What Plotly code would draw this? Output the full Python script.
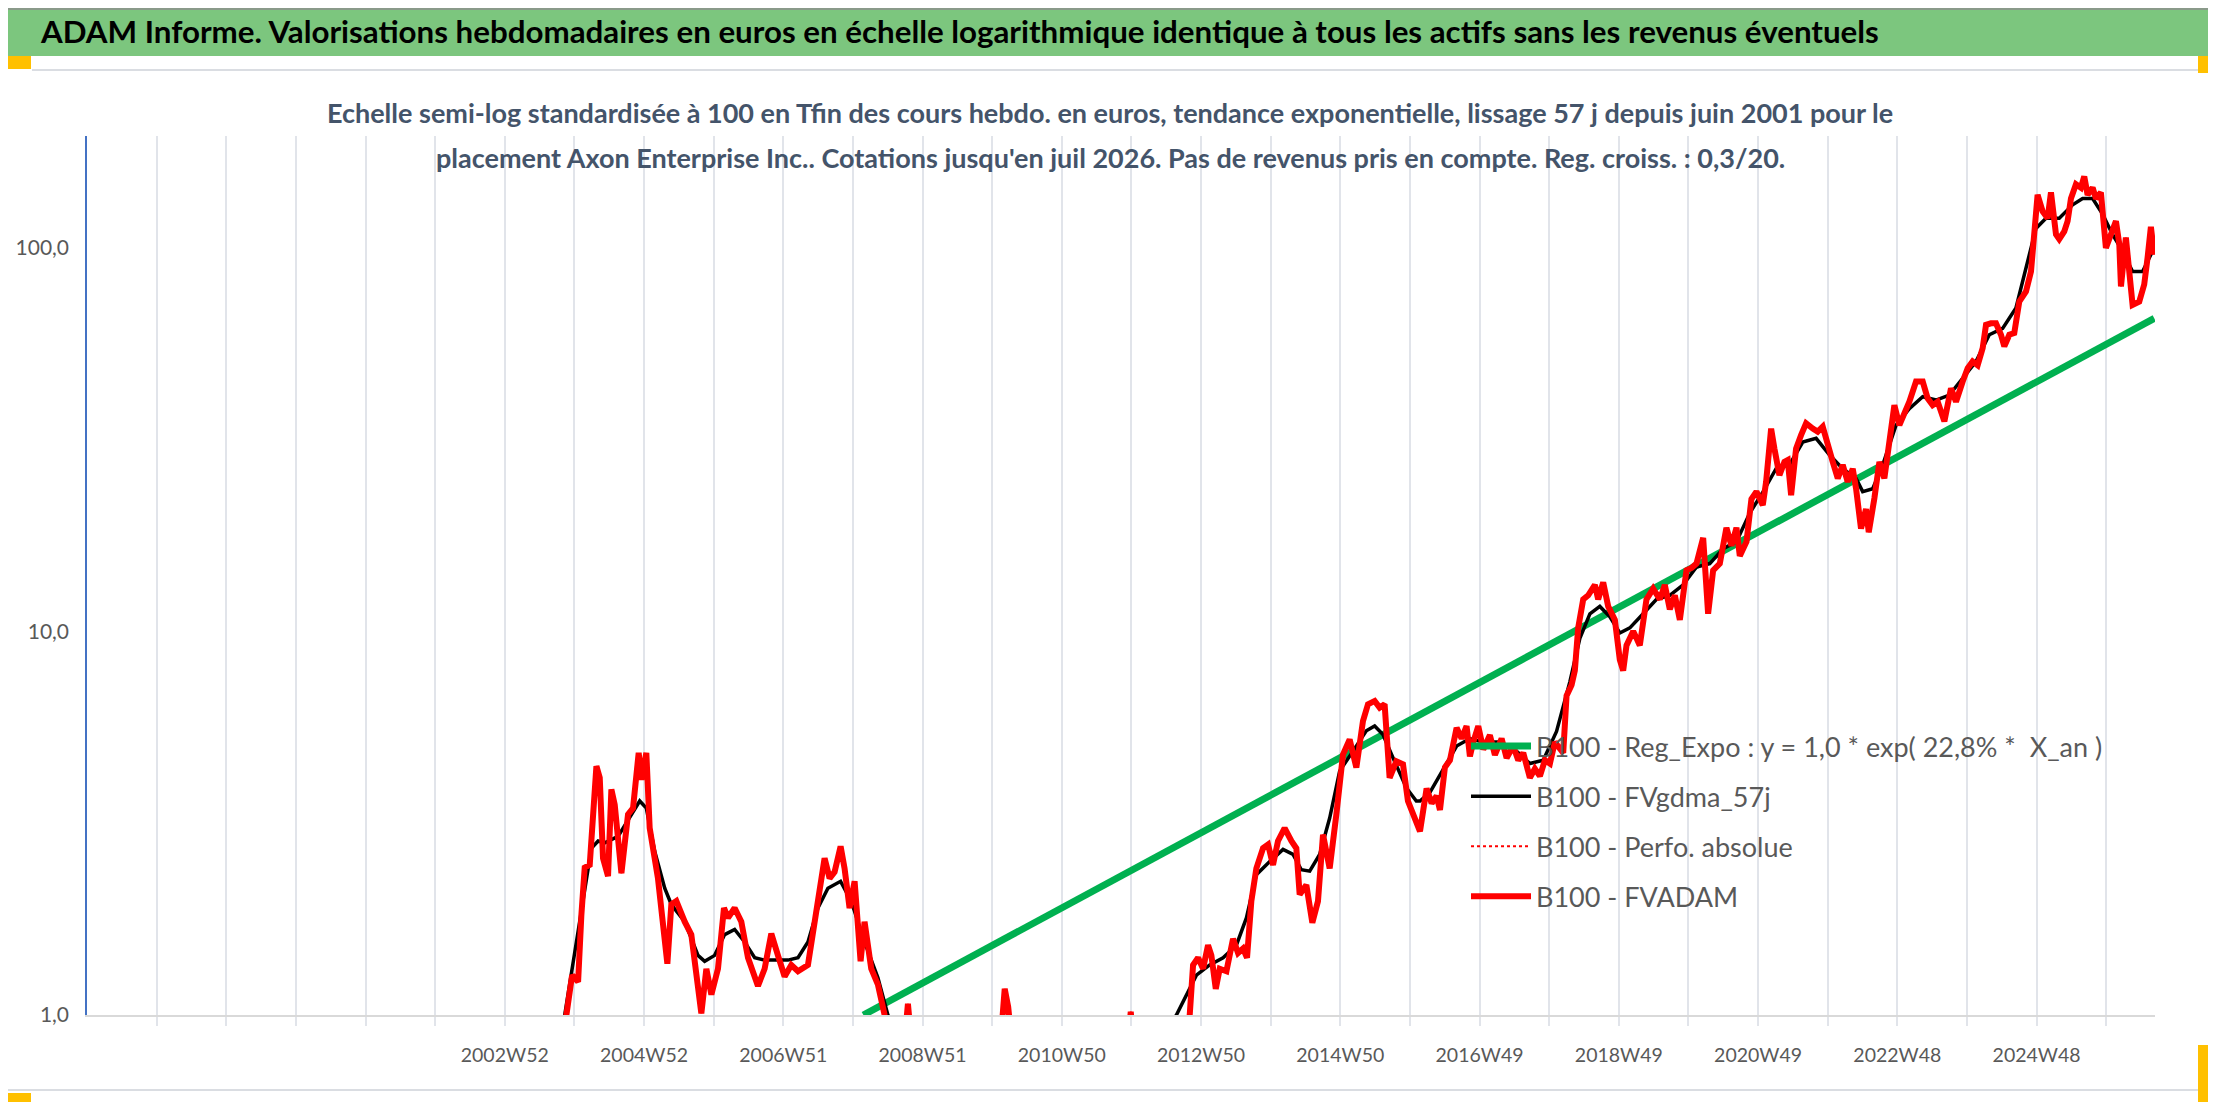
import plotly.graph_objects as go

# FVADAM (base 100) - weekly valuation (decimal years)
fvadam_x = [2001.45, 2001.9, 2002.4, 2002.9, 2003.4, 2003.75, 2003.885, 2003.967, 2004.053, 2004.10,
            2004.148, 2004.22, 2004.316, 2004.364, 2004.411, 2004.483, 2004.531, 2004.579, 2004.675, 2004.77,
            2004.842, 2004.923, 2004.962, 2005.033, 2005.081, 2005.20, 2005.335, 2005.392, 2005.464, 2005.584,
            2005.679, 2005.823, 2005.895, 2005.967, 2006.062, 2006.148, 2006.206, 2006.301, 2006.397, 2006.493,
            2006.636, 2006.732, 2006.828, 2006.923, 2007.019, 2007.115, 2007.211, 2007.354, 2007.45, 2007.522,
            2007.593, 2007.665, 2007.737, 2007.823, 2007.88, 2007.952, 2008.024, 2008.11, 2008.167, 2008.263,
            2008.359, 2008.455, 2008.6, 2008.74, 2008.79, 2008.84, 2009.2, 2009.6, 2010.0, 2010.12,
            2010.18, 2010.23, 2010.28, 2010.6, 2011.0, 2011.5, 2011.95, 2011.99, 2012.03, 2012.3,
            2012.6, 2012.837, 2012.885, 2012.957, 2013.029, 2013.10, 2013.148, 2013.211, 2013.268, 2013.364,
            2013.459, 2013.531, 2013.603, 2013.66, 2013.722, 2013.794, 2013.89, 2013.962, 2014.033, 2014.105,
            2014.20, 2014.297, 2014.368, 2014.416, 2014.512, 2014.598, 2014.679, 2014.751, 2014.847, 2014.943,
            2015.038, 2015.134, 2015.23, 2015.325, 2015.397, 2015.493, 2015.565, 2015.636, 2015.708, 2015.804,
            2015.90, 2015.971, 2016.043, 2016.144, 2016.239, 2016.311, 2016.383, 2016.431, 2016.502, 2016.574,
            2016.67, 2016.742, 2016.813, 2016.861, 2016.909, 2016.981, 2017.053, 2017.148, 2017.22, 2017.316,
            2017.388, 2017.483, 2017.555, 2017.627, 2017.722, 2017.794, 2017.866, 2017.938, 2018.01, 2018.081,
            2018.201, 2018.249, 2018.321, 2018.368, 2018.416, 2018.488, 2018.56, 2018.656, 2018.703, 2018.775,
            2018.847, 2018.943, 2019.014, 2019.062, 2019.11, 2019.206, 2019.254, 2019.301, 2019.397, 2019.493,
            2019.589, 2019.66, 2019.732, 2019.804, 2019.876, 2019.971, 2020.043, 2020.115, 2020.211, 2020.282,
            2020.354, 2020.45, 2020.545, 2020.617, 2020.689, 2020.737, 2020.833, 2020.904, 2020.976, 2021.067,
            2021.115, 2021.187, 2021.234, 2021.306, 2021.378, 2021.426, 2021.474, 2021.545, 2021.617, 2021.689,
            2021.785, 2021.856, 2021.928, 2022.0, 2022.072, 2022.144, 2022.215, 2022.287, 2022.359, 2022.407,
            2022.478, 2022.55, 2022.589, 2022.67, 2022.742, 2022.813, 2022.885, 2022.957, 2023.029, 2023.10,
            2023.172, 2023.268, 2023.364, 2023.435, 2023.507, 2023.579, 2023.675, 2023.77, 2023.842, 2023.938,
            2024.01, 2024.081, 2024.153, 2024.225, 2024.273, 2024.344, 2024.416, 2024.488, 2024.536, 2024.608,
            2024.679, 2024.751, 2024.847, 2024.919, 2024.967, 2025.014, 2025.086, 2025.158, 2025.206, 2025.278,
            2025.325, 2025.397, 2025.445, 2025.493, 2025.565, 2025.636, 2025.684, 2025.732, 2025.804, 2025.852,
            2025.923, 2025.995, 2026.067, 2026.139, 2026.187, 2026.211, 2026.282, 2026.378, 2026.474, 2026.545,
            2026.593, 2026.641, 2026.689]
fvadam_y = [0.45, 0.32, 0.28, 0.38, 0.55, 0.85, 1.0, 1.27, 1.22, 1.82,
            2.42, 2.46, 4.45, 4.15, 2.56, 2.30, 3.87, 3.53, 2.34, 3.33,
            3.46, 4.82, 4.1, 4.82, 3.07, 2.27, 1.36, 1.94, 1.98, 1.75,
            1.62, 1.01, 1.32, 1.13, 1.32, 1.90, 1.79, 1.90, 1.75, 1.41,
            1.19, 1.32, 1.63, 1.43, 1.26, 1.35, 1.30, 1.35, 1.75, 2.23,
            2.56, 2.27, 2.36, 2.75, 2.41, 1.90, 2.23, 1.38, 1.75, 1.32,
            1.20, 1.0, 0.85, 0.85, 1.07, 0.85, 0.6, 0.5, 0.7, 0.85,
            1.17, 1.05, 0.85, 0.6, 0.55, 0.7, 0.85, 1.02, 0.85, 0.6,
            0.7, 1.0, 1.35, 1.41, 1.32, 1.52, 1.43, 1.17, 1.32, 1.30,
            1.58, 1.45, 1.49, 1.41, 1.98, 2.41, 2.72, 2.78, 2.46, 2.84,
            3.07, 2.84, 2.72, 2.06, 2.18, 1.74, 1.98, 2.95, 2.41, 3.33,
            4.77, 5.22, 4.41, 5.83, 6.45, 6.58, 6.32, 6.45, 4.15, 4.58,
            4.50, 3.61, 3.33, 3.01, 3.89, 3.56, 3.72, 3.42, 4.42, 4.61,
            5.60, 5.25, 5.66, 4.72, 5.14, 5.66, 4.92, 5.36, 4.76, 5.25,
            4.67, 5.02, 4.61, 4.82, 4.15, 4.38, 4.19, 4.61, 4.52, 5.14,
            4.82, 6.79, 7.24, 7.89, 10.2, 12.1, 12.4, 13.2, 12.1, 13.4,
            11.6, 10.7, 8.42, 7.89, 9.18, 10.0, 9.58, 9.18, 12.1, 12.9,
            12.1, 13.2, 11.4, 12.4, 10.7, 14.4, 14.6, 15.0, 17.5, 11.1,
            14.4, 15.0, 18.6, 16.7, 18.6, 15.7, 17.1, 22.1, 23.1, 21.3,
            24.5, 33.7, 29.9, 25.5, 27.6, 27.9, 22.6, 29.9, 32.4, 34.8,
            33.7, 33.1, 34.1, 31.1, 27.6, 25.0, 27.1, 24.5, 26.5, 23.5,
            18.5, 20.8, 18.1, 22.2, 27.6, 25.0, 31.1, 38.8, 34.4, 36.6,
            39.6, 44.7, 44.7, 40.4, 38.8, 39.6, 35.2, 42.9, 39.6, 44.7,
            48.4, 50.4, 49.3, 54.6, 62.8, 63.4, 63.4, 59.2, 55.2, 59.2,
            59.8, 72.2, 76.7, 86.5, 110, 137, 124, 119, 139, 108,
            105, 110, 117, 134, 146, 143, 153, 137, 143, 134,
            139, 99.6, 108, 117, 102, 79.1, 106, 70.8, 72.2, 80.0,
            93.8, 113, 95.7]

# FVgdma_57j - smoothed valuation
gdma_x = [2001.45, 2002.5, 2003.3, 2003.7, 2003.861, 2003.967, 2004.10, 2004.244, 2004.34, 2004.435,
          2004.627, 2004.818, 2004.938, 2005.033, 2005.153, 2005.297, 2005.392, 2005.584, 2005.775, 2005.871,
          2006.014, 2006.158, 2006.301, 2006.445, 2006.589, 2006.732, 2006.923, 2007.067, 2007.211, 2007.354,
          2007.498, 2007.641, 2007.823, 2007.976, 2008.167, 2008.359, 2008.502, 2009.0, 2010.0, 2011.0,
          2012.0, 2012.4, 2012.646, 2012.933, 2013.124, 2013.316, 2013.507, 2013.651, 2013.794, 2013.986,
          2014.177, 2014.321, 2014.44, 2014.56, 2014.703, 2014.847, 2014.99, 2015.182, 2015.373, 2015.493,
          2015.612, 2015.756, 2015.947, 2016.091, 2016.144, 2016.287, 2016.478, 2016.67, 2016.861, 2017.053,
          2017.292, 2017.531, 2017.722, 2017.914, 2018.105, 2018.297, 2018.44, 2018.584, 2018.727, 2018.871,
          2019.014, 2019.158, 2019.349, 2019.541, 2019.732, 2019.923, 2020.115, 2020.306, 2020.498, 2020.689,
          2020.88, 2021.072, 2021.258, 2021.45, 2021.641, 2021.833, 2022.024, 2022.215, 2022.407, 2022.502,
          2022.646, 2022.789, 2022.981, 2023.172, 2023.364, 2023.555, 2023.746, 2023.938, 2024.129, 2024.32,
          2024.512, 2024.703, 2024.847, 2024.99, 2025.134, 2025.325, 2025.517, 2025.66, 2025.804, 2025.947,
          2026.09, 2026.234, 2026.378, 2026.522, 2026.665]
gdma_y = [0.4, 0.3, 0.5, 0.8, 1.0, 1.32, 1.82, 2.72, 2.84, 2.81,
          2.92, 3.33, 3.61, 3.46, 2.67, 2.14, 1.94, 1.75, 1.43, 1.38,
          1.43, 1.62, 1.67, 1.55, 1.41, 1.39, 1.39, 1.39, 1.41, 1.55,
          1.90, 2.14, 2.23, 1.98, 1.55, 1.25, 1.0, 0.7, 0.6, 0.6,
          0.65, 0.85, 1.0, 1.27, 1.35, 1.41, 1.52, 1.79, 2.32, 2.51,
          2.70, 2.62, 2.39, 2.37, 2.62, 3.26, 4.32, 4.87, 5.50, 5.66,
          5.38, 4.68, 3.91, 3.61, 3.61, 3.80, 4.38, 5.02, 5.25, 5.14,
          5.14, 4.87, 4.52, 4.61, 5.48, 7.39, 9.58, 11.1, 11.6, 10.9,
          9.89, 10.2, 11.1, 12.1, 12.4, 13.2, 14.7, 15.0, 16.4, 17.1,
          20.3, 23.1, 26.5, 27.1, 31.1, 31.8, 28.8, 26.5, 25.0, 23.1,
          23.5, 27.1, 34.4, 38.0, 40.8, 40.0, 41.2, 45.6, 50.4, 59.2,
          61.5, 69.5, 88.3, 112, 119, 119, 129, 134, 134, 122,
          108, 97.7, 86.5, 86.5, 97.7]

# Reg_Expo : y = 1,0 * exp(22,8% * X_an), visible part of the trend line
reg_x = [2008.15, 2026.69]
reg_y = [1.0, 65.3]

# category labels of the x axis (one gridline per year, label every two years)
grid_years = list(range(1998, 2027))
label_years = [2003, 2005, 2007, 2009, 2011, 2013, 2015, 2017, 2019, 2021, 2023, 2025]
label_text = ['2002W52', '2004W52', '2006W51', '2008W51', '2010W50', '2012W50',
              '2014W50', '2016W49', '2018W49', '2020W49', '2022W48', '2024W48']

W_PX, H_PX = 2216, 1102
L, R, T, B = 79, 2147, 128, 1007

FONT = "Lato, Open Sans, sans-serif"


def px(x):
	return (x - L) / (R - L)


def py(y):
	return (B - y) / (B - T)


tick_text = [label_text[label_years.index(yr)] if yr in label_years else '' for yr in grid_years]

fig = go.Figure()
fig.add_trace(go.Scatter(x=reg_x, y=reg_y, mode='lines', name='B100 - Reg_Expo : y = 1,0 * exp( 22,8% *  X_an )',
						 line=dict(color='#00B050', width=7), legendgroup='a', legendrank=1))
fig.add_trace(go.Scatter(x=gdma_x, y=gdma_y, mode='lines', name='B100 - FVgdma_57j',
						 line=dict(color='black', width=3.5), legendgroup='b', legendrank=2))
fig.add_trace(go.Scatter(x=fvadam_x, y=fvadam_y, mode='lines', name='B100 - Perfo. absolue',
						 line=dict(color='red', width=2, dash='dot'), legendgroup='c', legendrank=3))
fig.add_trace(go.Scatter(x=fvadam_x, y=fvadam_y, mode='lines', name='B100 - FVADAM',
						 line=dict(color='red', width=6), legendgroup='d', legendrank=4))

shapes = [
	# green title bar
	dict(type='rect', xref='paper', yref='paper', x0=px(0), x1=px(W_PX), y0=py(48), y1=py(0),
		 fillcolor='#7CC67E', line=dict(width=0), layer='below'),
	dict(type='line', xref='paper', yref='paper', x0=px(0), x1=px(W_PX), y0=py(1), y1=py(1),
		 line=dict(color='#8A9A8A', width=2)),
	# chart area border
	dict(type='line', xref='paper', yref='paper', x0=px(24), x1=px(2205), y0=py(62), y1=py(62),
		 line=dict(color='#DADDE2', width=2)),
	dict(type='line', xref='paper', yref='paper', x0=px(2205), x1=px(2205), y0=py(62), y1=py(1082),
		 line=dict(color='#DADDE2', width=2)),
	dict(type='line', xref='paper', yref='paper', x0=px(0), x1=px(2205), y0=py(1082), y1=py(1082),
		 line=dict(color='#DADDE2', width=2)),
	dict(type='line', xref='paper', yref='paper', x0=px(0), x1=px(W_PX), y0=py(1100), y1=py(1100),
		 line=dict(color='#808080', width=2)),
	# selection handles
	dict(type='rect', xref='paper', yref='paper', x0=px(0), x1=px(23), y0=py(61), y1=py(48),
		 fillcolor='#FFC000', line=dict(width=0)),
	dict(type='rect', xref='paper', yref='paper', x0=px(2190), x1=px(2210), y0=py(65), y1=py(48),
		 fillcolor='#FFC000', line=dict(width=0)),
	dict(type='rect', xref='paper', yref='paper', x0=px(0), x1=px(23), y0=py(1099), y1=py(1085),
		 fillcolor='#FFC000', line=dict(width=0)),
	dict(type='rect', xref='paper', yref='paper', x0=px(2190), x1=px(2210), y0=py(1099), y1=py(1037),
		 fillcolor='#FFC000', line=dict(width=0)),
]

annotations = [
	dict(text='ADAM Informe. Valorisations hebdomadaires en euros en échelle logarithmique identique à tous les actifs sans les revenus éventuels',
		 xref='paper', yref='paper', x=px(30), y=py(23), xanchor='left', yanchor='middle', showarrow=False,
		 font=dict(family=FONT, size=31.3, color='black', weight='bold')),
	dict(text='Echelle semi-log standardisée à 100 en Tfin des cours hebdo. en euros, tendance exponentielle, lissage 57 j depuis juin 2001 pour le',
		 xref='paper', yref='paper', x=px(1102), y=py(104), xanchor='center', yanchor='middle', showarrow=False,
		 font=dict(family=FONT, size=27, color='#44546A', weight='bold')),
	dict(text="placement Axon Enterprise Inc.. Cotations jusqu'en juil 2026. Pas de revenus pris en compte. Reg. croiss. : 0,3/20.",
		 xref='paper', yref='paper', x=px(1102), y=py(149), xanchor='center', yanchor='middle', showarrow=False,
		 font=dict(family=FONT, size=27, color='#44546A', weight='bold')),
]

fig.update_layout(
	width=W_PX, height=H_PX,
	margin=dict(l=L, r=W_PX - R, t=T, b=H_PX - B, autoexpand=False),
	paper_bgcolor='white', plot_bgcolor='white',
	font=dict(family=FONT, color='#595959'),
	shapes=shapes, annotations=annotations,
	showlegend=True,
	legend=dict(x=px(1458), y=py(714), xanchor='left', yanchor='top', bgcolor='rgba(0,0,0,0)',
				font=dict(family=FONT, size=27, color='#595959'), itemwidth=60,
				tracegroupgap=12, traceorder='grouped'),
	xaxis=dict(range=[1997.0, 2026.70], tickmode='array', tickvals=grid_years, ticktext=tick_text,
			   showgrid=True, gridcolor='#E1E4EA', gridwidth=1.5, zeroline=False, automargin=False,
			   showline=True, linecolor='#D9D9D9', linewidth=2,
			   ticks='outside', ticklen=9, tickcolor='#E1E4EA', tickwidth=1.5,
			   tickfont=dict(size=19.5, color='#595959'), ticklabelstandoff=13, tickangle=0),
	yaxis=dict(type='log', range=[0, 2.29], tickmode='array', tickvals=[1, 10, 100],
			   ticktext=['1,0', '10,0', '100,0'], showgrid=False, zeroline=False, automargin=False,
			   showline=True, linecolor='#4472C4', linewidth=1.5, ticks='',
			   tickfont=dict(size=21, color='#595959'), ticklabelstandoff=12),
)

fig.write_html("out.html")
